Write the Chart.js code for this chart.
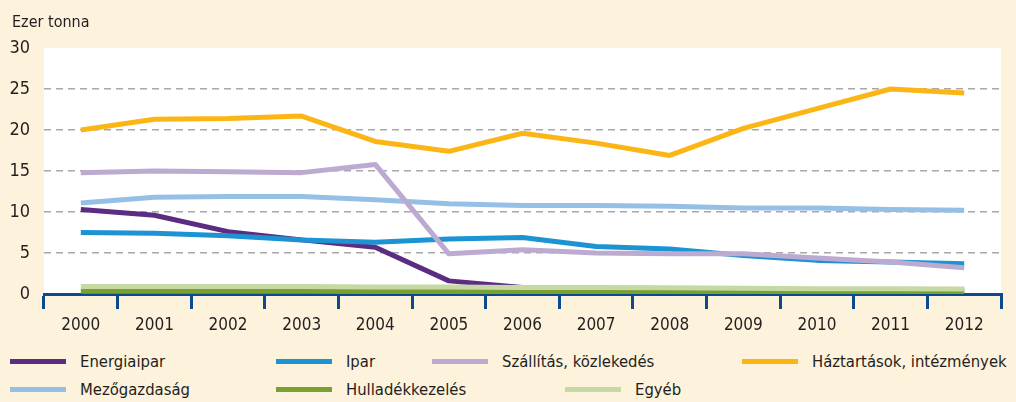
<!DOCTYPE html>
<html lang="hu">
  <head>
    <meta charset="UTF-8">
    <script src="https://cdn.jsdelivr.net/npm/chart.js"></script>
    <style>
      html, body {
        margin: 0;
        padding: 0;
        background: #fdf2dc;
        font-family: 'Liberation Sans Narrow', 'DejaVu Sans Condensed', sans-serif;
        color: #231f20;
      }
      #wrap {
        position: relative;
        width: 1016px;
        height: 402px;
        overflow: hidden;
      }
      #chartBox {
        position: absolute;
        left: 0;
        top: 0;
        width: 1016px;
        height: 340px;
      }
      #unit {
        position: absolute;
        left: 12px;
        top: 12px;
        font-size: 16px;
      }
      .lg {
        position: absolute;
        font-size: 16.5px;
        line-height: 20px;
        white-space: nowrap;
      }
      .lg i {
        display: inline-block;
        width: 56px;
        height: 5px;
        vertical-align: middle;
        margin-right: 14px;
        position: relative;
        top: -1px;
      }
    </style>
  </head>
  <body>
    <div id="wrap">
      <div id="chartBox"><canvas id="emChart"></canvas></div>
      <div id="unit">Ezer tonna</div>
      <div id="legend"></div>
    </div>

    <script>
      // years on the x axis
      const years = ['2000', '2001', '2002', '2003', '2004', '2005', '2006',
                     '2007', '2008', '2009', '2010', '2011', '2012'];

      // values (ezer tonna)
      const energiaipar = [10.3, 9.6, 7.6, 6.6, 5.7, 1.6, 0.8, 0.7, 0.6, 0.55, 0.5, 0.5, 0.5];
      const ipar = [7.5, 7.4, 7.1, 6.6, 6.3, 6.7, 6.9, 5.8, 5.5, 4.7, 4.1, 3.9, 3.7];
      const szallitas = [14.8, 15.0, 14.9, 14.8, 15.8, 4.9, 5.4, 5.0, 4.9, 4.9, 4.4, 3.9, 3.2];
      const haztartasok = [20.0, 21.3, 21.4, 21.7, 18.6, 17.4, 19.6, 18.4, 16.9, 20.2, 22.6, 25.0, 24.5];
      const mezogazdasag = [11.1, 11.8, 11.9, 11.9, 11.5, 11.0, 10.8, 10.8, 10.7, 10.5, 10.5, 10.3, 10.2];
      const hulladek = [0.35, 0.35, 0.35, 0.35, 0.3, 0.3, 0.3, 0.3, 0.25, 0.2, 0.2, 0.2, 0.2];
      const egyeb = [0.9, 0.9, 0.9, 0.9, 0.85, 0.85, 0.8, 0.8, 0.75, 0.7, 0.65, 0.65, 0.6];

      const yTicks = [0, 5, 10, 15, 20, 25, 30];

      const font = "'Liberation Sans Narrow', 'DejaVu Sans Condensed', sans-serif";
      const axisBlue = '#0d4a8c';

      // label, data, colour, draw order (lower = on top), legend spot
      const series = [
        { label: 'Energiaipar', data: energiaipar, color: '#5b2c82', order: 7, lx: 10, ly: 352 },
        { label: 'Ipar', data: ipar, color: '#1d93d3', order: 3, lx: 276, ly: 352 },
        { label: 'Szállítás, közlekedés', data: szallitas, color: '#bcaad0', order: 1, lx: 432, ly: 352 },
        { label: 'Háztartások, intézmények', data: haztartasok, color: '#fbb616', order: 0, lx: 742, ly: 352 },
        { label: 'Mezőgazdaság', data: mezogazdasag, color: '#96bfe6', order: 2, lx: 10, ly: 380 },
        { label: 'Hulladékkezelés', data: hulladek, color: '#77a22f', order: 6, lx: 276, ly: 380 },
        { label: 'Egyéb', data: egyeb, color: '#c5d9a5', order: 5, lx: 565, ly: 380 }
      ];

      // html legend
      const legendEl = document.getElementById('legend');
      series.forEach(function (s) {
        const d = document.createElement('div');
        d.className = 'lg';
        d.style.left = s.lx + 'px';
        d.style.top = s.ly + 'px';
        d.innerHTML = '<i style="background:' + s.color + '"></i>' + s.label;
        legendEl.appendChild(d);
      });

      // white plot area on cream background
      const plotBg = {
        id: 'plotBg',
        beforeDraw(chart) {
          const a = chart.chartArea;
          const c = chart.ctx;
          c.save();
          c.fillStyle = '#ffffff';
          c.fillRect(a.left, a.top, a.right - a.left, a.bottom - a.top);
          c.restore();
        }
      };

      const ctx = document.getElementById('emChart').getContext('2d');

      new Chart(ctx, {
        type: 'line',
        data: {
          labels: years,
          datasets: series.map(function (s) {
            return {
              label: s.label,
              data: s.data,
              borderColor: s.color,
              backgroundColor: s.color,
              borderWidth: 5,
              pointRadius: 0,
              tension: 0,
              borderCapStyle: 'butt',
              borderJoinStyle: 'round',
              fill: false,
              order: s.order
            };
          })
        },
        plugins: [plotBg],
        options: {
          responsive: true,
          maintainAspectRatio: false,
          animation: false,
          layout: {
            padding: { top: 48, right: 15, left: 0, bottom: 0 }
          },
          plugins: {
            legend: { display: false },
            title: { display: false },
            tooltip: { enabled: false }
          },
          scales: {
            x: {
              offset: true,
              grid: {
                offset: true,
                drawOnChartArea: false,
                drawTicks: true,
                tickLength: 15,
                color: axisBlue,
                lineWidth: 3
              },
              border: { display: true, color: axisBlue, width: 3 },
              ticks: {
                padding: 6,
                color: '#231f20',
                font: { family: font, size: 17 },
                maxRotation: 0
              },
              afterFit(scale) { scale.height = 46; }
            },
            y: {
              min: 0,
              max: 30,
              afterBuildTicks(scale) {
                scale.ticks = yTicks.map(function (v) { return { value: v }; });
              },
              grid: {
                drawTicks: false,
                lineWidth: 1.5,
                color: function (c) {
                  const v = c.tick ? c.tick.value : 0;
                  return (v === 0 || v === 30) ? 'rgba(0,0,0,0)' : '#a8a8a8';
                }
              },
              border: { display: false, dash: [7, 5] },
              ticks: {
                padding: 14,
                color: '#231f20',
                font: { family: font, size: 18 }
              },
              afterFit(scale) { scale.width = 44; }
            }
          }
        }
      });
    </script>
  </body>
</html>
